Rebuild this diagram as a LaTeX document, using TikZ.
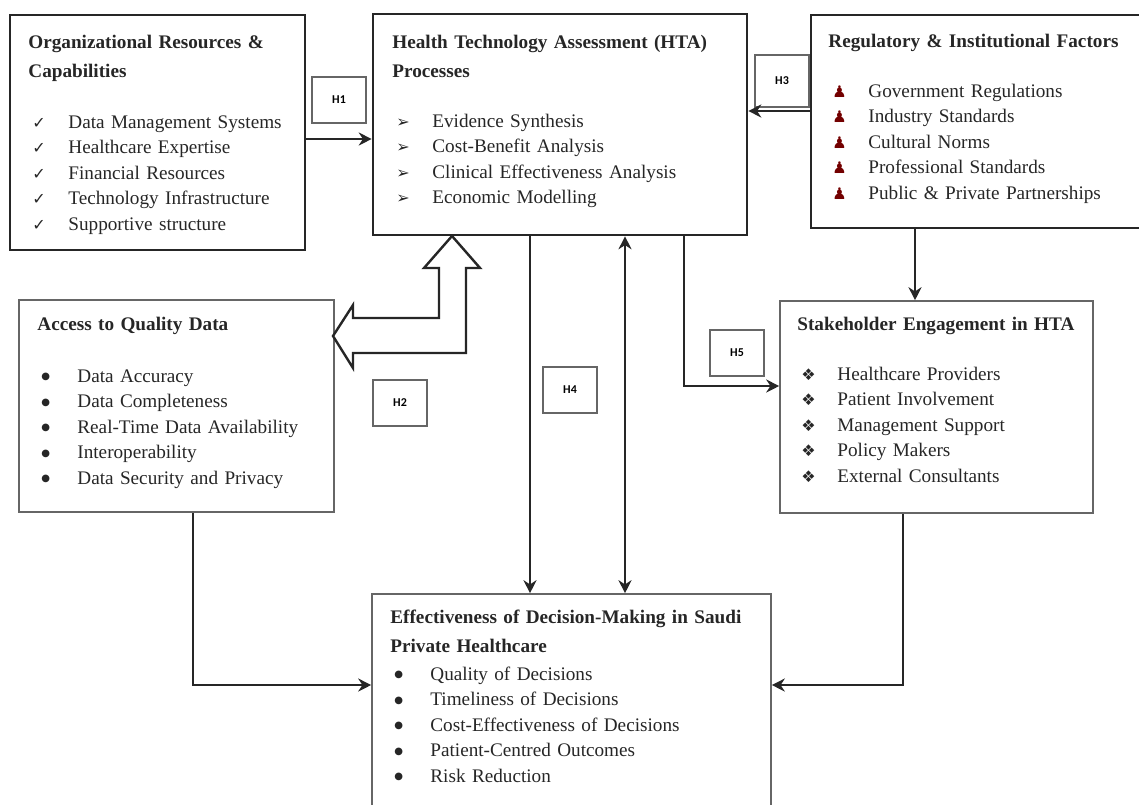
\documentclass[tikz,border=0pt]{standalone}
\usepackage{fontspec}
\setmainfont{Liberation Serif}
\newfontfamily\symfont{DejaVu Sans}
\newfontfamily\hfont{Carlito}
\usepackage{tikz}
\usetikzlibrary{arrows.meta, fit}

% list row: bullet, then text at a fixed indent
\newcommand{\itm}[2]{\hspace*{2pt}\makebox[18pt][l]{#1}#2}
\newcommand{\chk}{{\symfont\footnotesize\color{black!85}✓}}
\newcommand{\arw}{{\symfont\footnotesize\color{black!85}➢}}
\newcommand{\pwn}{{\symfont\footnotesize\color{red!45!black}♟}}
\newcommand{\dia}{{\symfont\footnotesize\color{black!85}❖}}
\newcommand{\bul}{\raisebox{1.3pt}{\symfont\fontsize{5}{6}\selectfont\color{black!85}●}}

\begin{document}
\begin{tikzpicture}[x=0.5pt, y=-0.5pt,
    box/.style={draw=black!85, line width=1.3pt, inner sep=0pt},
    lbox/.style={draw=black!60, line width=0.8pt, inner sep=0pt},
    hyp/.style={draw=black!60, line width=0.6pt, minimum width=27pt, minimum height=23pt,
        inner sep=0pt, font=\hfont\fontsize{6}{7}\selectfont\bfseries},
    txt/.style={anchor=base west, inner sep=0pt, text width=200pt, align=left,
        font=\fontsize{9.6}{12.8}\selectfont, text=black!85},
    arr/.style={-{Stealth[length=6.5pt,width=6.5pt]}, line width=1.2pt, draw=black!85},
    blk/.style={draw=black!85, line width=1.2pt, fill=white, line join=miter}]
    \useasboundingbox (0,0) rectangle (1139,804);
    \clip (0,0) rectangle (1139,804);

    % boxes
    \node[box, fit={(10,15) (305,250)}] (org) {};
    \node[box, fit={(373,14) (747,235)}] (hta) {};
    \node[box, fit={(811,15) (1150,228)}] (reg) {};
    \node[lbox, fit={(19,300) (334,512)}] (access) {};
    \node[lbox, fit={(780,301) (1093,513)}] (stake) {};
    \node[lbox, fit={(372,594) (771,830)}] (eff) {};

    % box texts
    \node[txt] (orgtxt) at (28,48) {\textbf{Organizational Resources \&}\\[1.7pt]
        \textbf{Capabilities}\\[12.7pt]
        \itm{\chk}{Data Management Systems}\\
        \itm{\chk}{Healthcare Expertise}\\
        \itm{\chk}{Financial Resources}\\
        \itm{\chk}{Technology Infrastructure}\\
        \itm{\chk}{Supportive structure}};
    \node[txt] (htatxt) at (392,48) {\textbf{Health Technology Assessment (HTA)}\\[1.7pt]
        \textbf{Processes}\\[12.2pt]
        \itm{\arw}{Evidence Synthesis}\\
        \itm{\arw}{Cost-Benefit Analysis}\\
        \itm{\arw}{Clinical Effectiveness Analysis}\\
        \itm{\arw}{Economic Modelling}};
    \node[txt] (regtxt) at (828,47) {\textbf{Regulatory \& Institutional Factors}\\[12.2pt]
        \itm{\pwn}{Government Regulations}\\
        \itm{\pwn}{Industry Standards}\\
        \itm{\pwn}{Cultural Norms}\\
        \itm{\pwn}{Professional Standards}\\
        \itm{\pwn}{Public \& Private Partnerships}};
    \node[txt] (accesstxt) at (37,330) {\textbf{Access to Quality Data}\\[13.2pt]
        \itm{\bul}{Data Accuracy}\\
        \itm{\bul}{Data Completeness}\\
        \itm{\bul}{Real-Time Data Availability}\\
        \itm{\bul}{Interoperability}\\
        \itm{\bul}{Data Security and Privacy}};
    \node[txt] (staketxt) at (797,330) {\textbf{Stakeholder Engagement in HTA}\\[12.2pt]
        \itm{\dia}{Healthcare Providers}\\
        \itm{\dia}{Patient Involvement}\\
        \itm{\dia}{Management Support}\\
        \itm{\dia}{Policy Makers}\\
        \itm{\dia}{External Consultants}};
    \node[txt] (efftxt) at (390,623) {\textbf{Effectiveness of Decision-Making in Saudi}\\[1.7pt]
        \textbf{Private Healthcare}\\[1.2pt]
        \itm{\bul}{Quality of Decisions}\\
        \itm{\bul}{Timeliness of Decisions}\\
        \itm{\bul}{Cost-Effectiveness of Decisions}\\
        \itm{\bul}{Patient-Centred Outcomes}\\
        \itm{\bul}{Risk Reduction}};

    % hypothesis labels
    \node[hyp] (h1) at (339,100) {H1};
    \node[hyp] (h2) at (400,403) {H2};
    \node[hyp, minimum height=26pt] (h3) at (782,81) {H3};
    \node[hyp] (h4) at (570,390) {H4};
    \node[hyp] (h5) at (737,353) {H5};

    % helper rows and columns
    \coordinate (y1) at (0,139);
    \coordinate (y3) at (0,111);
    \coordinate (x4) at (530,0);
    \coordinate (x4b) at (625,0);
    \coordinate (x5) at (684,0);
    \coordinate (y5) at (0,386);
    \coordinate (x6) at (915,0);
    \coordinate (x7) at (193,0);
    \coordinate (x8) at (903,0);
    \coordinate (y7) at (0,685);

    % connectors
    \draw[arr] (org.east |- y1) -- (hta.west |- y1);
    \draw[arr] (reg.west |- y3) -- (hta.east |- y3);
    \draw[arr] (hta.south -| x4) -- (eff.north -| x4);
    \draw[arr, {Stealth[length=6.5pt,width=6.5pt]}-{Stealth[length=6.5pt,width=6.5pt]}] (hta.south -| x4b) -- (eff.north -| x4b);
    \draw[arr] (hta.south -| x5) |- (stake.west |- y5);
    \draw[arr] (reg.south -| x6) -- (stake.north -| x6);
    \draw[arr] (access.south -| x7) |- (eff.west |- y7);
    \draw[arr] (stake.south -| x8) |- (eff.east |- y7);

    % block arrow between HTA and data access
    \draw[blk] (452,236) -- (480,268) -- (466,268) -- (466,353) -- (353,353) -- (353,368)
        -- (333,336) -- (353,305) -- (353,318) -- (439,318) -- (439,268) -- (424,268) -- cycle;
\end{tikzpicture}
\end{document}
